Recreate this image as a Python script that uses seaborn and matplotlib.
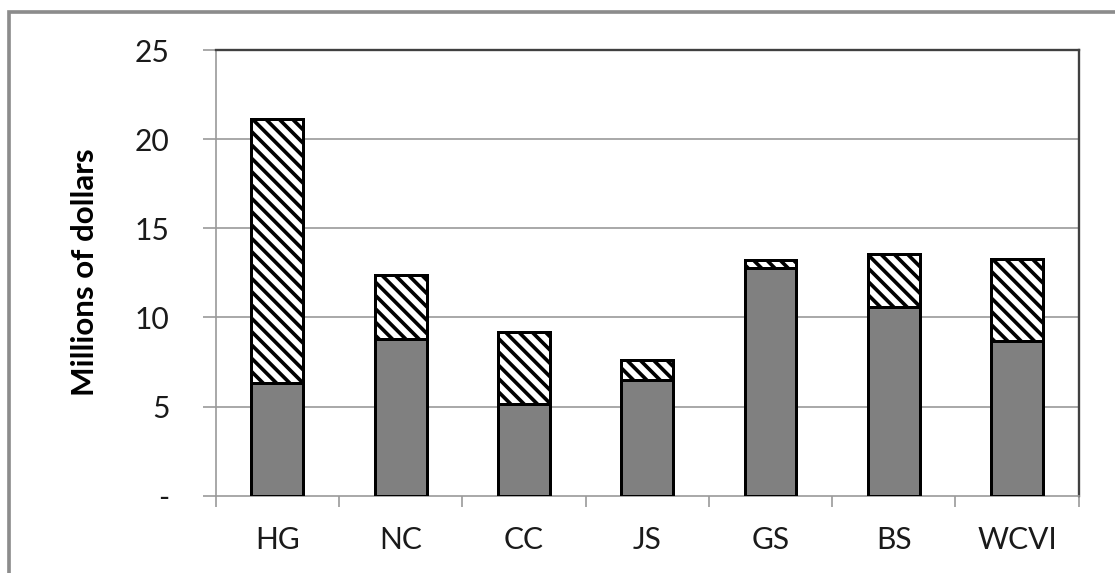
import matplotlib
matplotlib.use("Agg")
import matplotlib.pyplot as plt
import matplotlib.patches as mpatches
import seaborn as sns
import pandas as pd
import numpy as np

# Regional values (millions of dollars)
regions = ["HG", "NC", "CC", "JS", "GS", "BS", "WCVI"]
base_values = [6.31, 8.79, 5.12, 6.50, 12.79, 10.61, 8.70]
extra_values = [14.83, 3.58, 4.04, 1.12, 0.41, 2.93, 4.60]
y_ticks = [0, 5, 10, 15, 20, 25]
y_tick_labels = ["-", "5", "10", "15", "20", "25"]

df = pd.DataFrame({
    "region": regions,
    "base": base_values,
    "total": np.array(base_values) + np.array(extra_values),
})

sns.set_theme(style="white")
plt.rcParams["font.family"] = ["Lato", "DejaVu Sans"]
plt.rcParams["hatch.linewidth"] = 2.2
plt.rcParams["hatch.color"] = "black"

DPI = 120
fig = plt.figure(figsize=(1115 / DPI, 573 / DPI), dpi=DPI)
ax = fig.add_axes([0.1935, 0.1349, 0.9673 - 0.1935, 0.9127 - 0.1349])

grid_col = "#9a9a9a"
text_col = "#1a1a1a"

# gridlines behind the bars
for v in y_ticks[1:]:
    ax.axhline(v, color=grid_col, lw=1.0, zorder=0)

bar_w = 0.42
# full stack height, hatched
sns.barplot(data=df, x="region", y="total", order=regions, width=bar_w,
            color="white", edgecolor="black", linewidth=1.8, hatch="\\" * 3,
            saturation=1, ax=ax, zorder=2)
# solid lower segment drawn over it
sns.barplot(data=df, x="region", y="base", order=regions, width=bar_w,
            color="#808080", edgecolor="black", linewidth=1.8,
            saturation=1, ax=ax, zorder=3)

ax.set_xlim(-0.5, len(regions) - 0.5)
ax.set_ylim(0, 25)

# category boundaries as tick marks, labels at centers
ax.set_xticks(np.arange(-0.5, len(regions)), labels=[""] * (len(regions) + 1))
ax.set_xticks(np.arange(len(regions)), labels=regions, minor=True)
ax.tick_params(axis="x", which="major", direction="out", length=6.6, width=1.0,
               color=grid_col, bottom=True)
ax.tick_params(axis="x", which="minor", length=0, pad=18, labelsize=18,
               labelcolor=text_col)

ax.set_yticks(y_ticks, labels=y_tick_labels)
ax.tick_params(axis="y", direction="out", length=7.8, width=1.0, color=grid_col,
               left=True, pad=20, labelsize=18, labelcolor=text_col)

ax.set_xlabel("")
ax.set_ylabel("")

for side in ["left", "bottom"]:
    ax.spines[side].set_color(grid_col)
    ax.spines[side].set_linewidth(1.0)
for side in ["top", "right"]:
    ax.spines[side].set_color("#404040")
    ax.spines[side].set_linewidth(1.4)
for s in ax.spines.values():
    s.set_zorder(1)

fig.text(85 / 1115, 1 - 272 / 573, "Millions of dollars", rotation=90,
         ha="center", va="center", fontsize=18.8, fontweight="bold",
         color="black")

# outer chart frame
fig.patches.append(mpatches.Rectangle((9 / 1115, -0.2), 2.0, 0.2 + (1 - 12 / 573),
                                      transform=fig.transFigure, fill=False,
                                      edgecolor="#8c8c8c", linewidth=2.2))

fig.savefig("out.png", dpi=DPI, facecolor="white")
